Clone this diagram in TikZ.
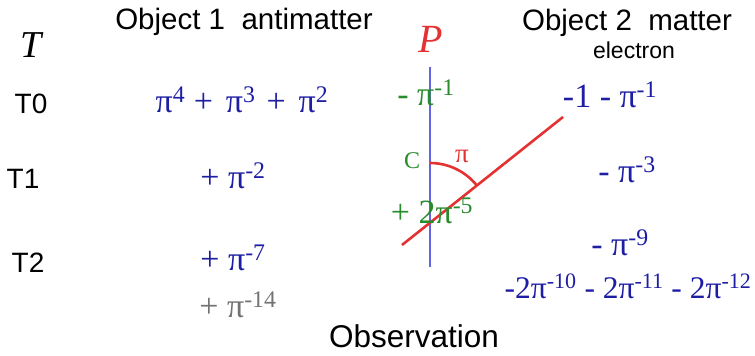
\documentclass[tikz,border=0pt]{standalone}
\usepackage{fontspec}
\setmainfont{Liberation Sans}
\newfontfamily\termfont{Liberation Serif}

\definecolor{termblue}{RGB}{30,30,165}
\definecolor{termgreen}{RGB}{40,140,45}
\definecolor{termgray}{RGB}{115,115,115}
\definecolor{axisblue}{RGB}{100,100,232}
\definecolor{planered}{RGB}{228,50,50}

\newcommand\pipow[1]{π\textsuperscript{#1}}

\tikzset{
  heading/.style={inner sep=0pt, anchor=base, font=\fontsize{29.5}{30}\selectfont},
  rowname/.style={inner sep=0pt, anchor=base, font=\fontsize{28}{28}\selectfont},
  term/.style={inner sep=0pt, anchor=base, text=termblue, font=\termfont\fontsize{34}{34}\selectfont},
}

\begin{document}
\begin{tikzpicture}[x=1pt,y=-1pt]
    \useasboundingbox (0,0) rectangle (755,356);

    % headings
    \node[inner sep=0pt, anchor=base, font=\termfont\itshape\fontsize{38}{38}\selectfont] (time) at (31,57) {T};
    \node[heading] (obj1) at (244,29) {Object 1\ \ antimatter};
    \node[heading] (obj2) at (627,30) {Object 2\ \ matter};
    \node[inner sep=0pt, anchor=base, font=\fontsize{23}{23}\selectfont] (elec) at (634,58) {electron};
    \node[inner sep=0pt, anchor=base, text=planered, font=\termfont\itshape\fontsize{40}{40}\selectfont] (plane) at (431,52) {P};
    \node[heading, font=\fontsize{31.5}{32}\selectfont] (obs) at (414,347) {Observation};

    % rows
    \node[rowname] (t0) at (31,113) {T0};
    \node[rowname] (t1) at (23,188) {T1};
    \node[rowname] (t2) at (28,272) {T2};

    % antimatter side
    \node[term] (a0) at (242,112) {\pipow{4} +\hspace{13pt}\pipow{3}\hspace{11pt}+\hspace{13pt}\pipow{2}};
    \node[term] (a1) at (233,188) {+\ \pipow{-2}};
    \node[term] (a2) at (233,270) {+\ \pipow{-7}};
    \node[term, text=termgray] (a3) at (238,317) {+\ \pipow{-14}};

    % matter side
    \node[term] (m0) at (610,107) {-1\ -\ \pipow{-1}};
    \node[term] (m1) at (627,182) {-\ \pipow{-3}};
    \node[term] (m2) at (620,255) {-\ \pipow{-9}};
    \node[term, font=\termfont\fontsize{31.5}{32}\selectfont] (m3) at (628,298) {-2\pipow{-10} -\ 2\pipow{-11} -\ 2\pipow{-12}};

    % observation axis and plane
    \coordinate (top) at (430,67);
    \coordinate (bottom) at (430,267);
    \coordinate (low) at (402,245);
    \coordinate (high) at (563,117);
    \coordinate (cross) at (430,223);
    \draw[axisblue, line width=2.6pt] (top) -- (bottom);
    \draw[planered, line width=2.6pt] (low) -- (high);
    \draw[planered, line width=2.6pt] (cross) ++(-90:60) arc[start angle=-90, end angle=-38.5, radius=60];

    % labels on the axis
    \node[term, text=termgreen] (g0) at (426,105) {-\ \pipow{-1}};
    \node[term, text=termgreen, font=\termfont\fontsize{24}{24}\selectfont] (cpt) at (412,168) {C};
    \node[term, text=planered, font=\termfont\fontsize{27}{27}\selectfont] (ang) at (462,162) {π};
    \node[term, text=termgreen] (g1) at (432,223) {+ 2\pipow{-5}};
\end{tikzpicture}
\end{document}
